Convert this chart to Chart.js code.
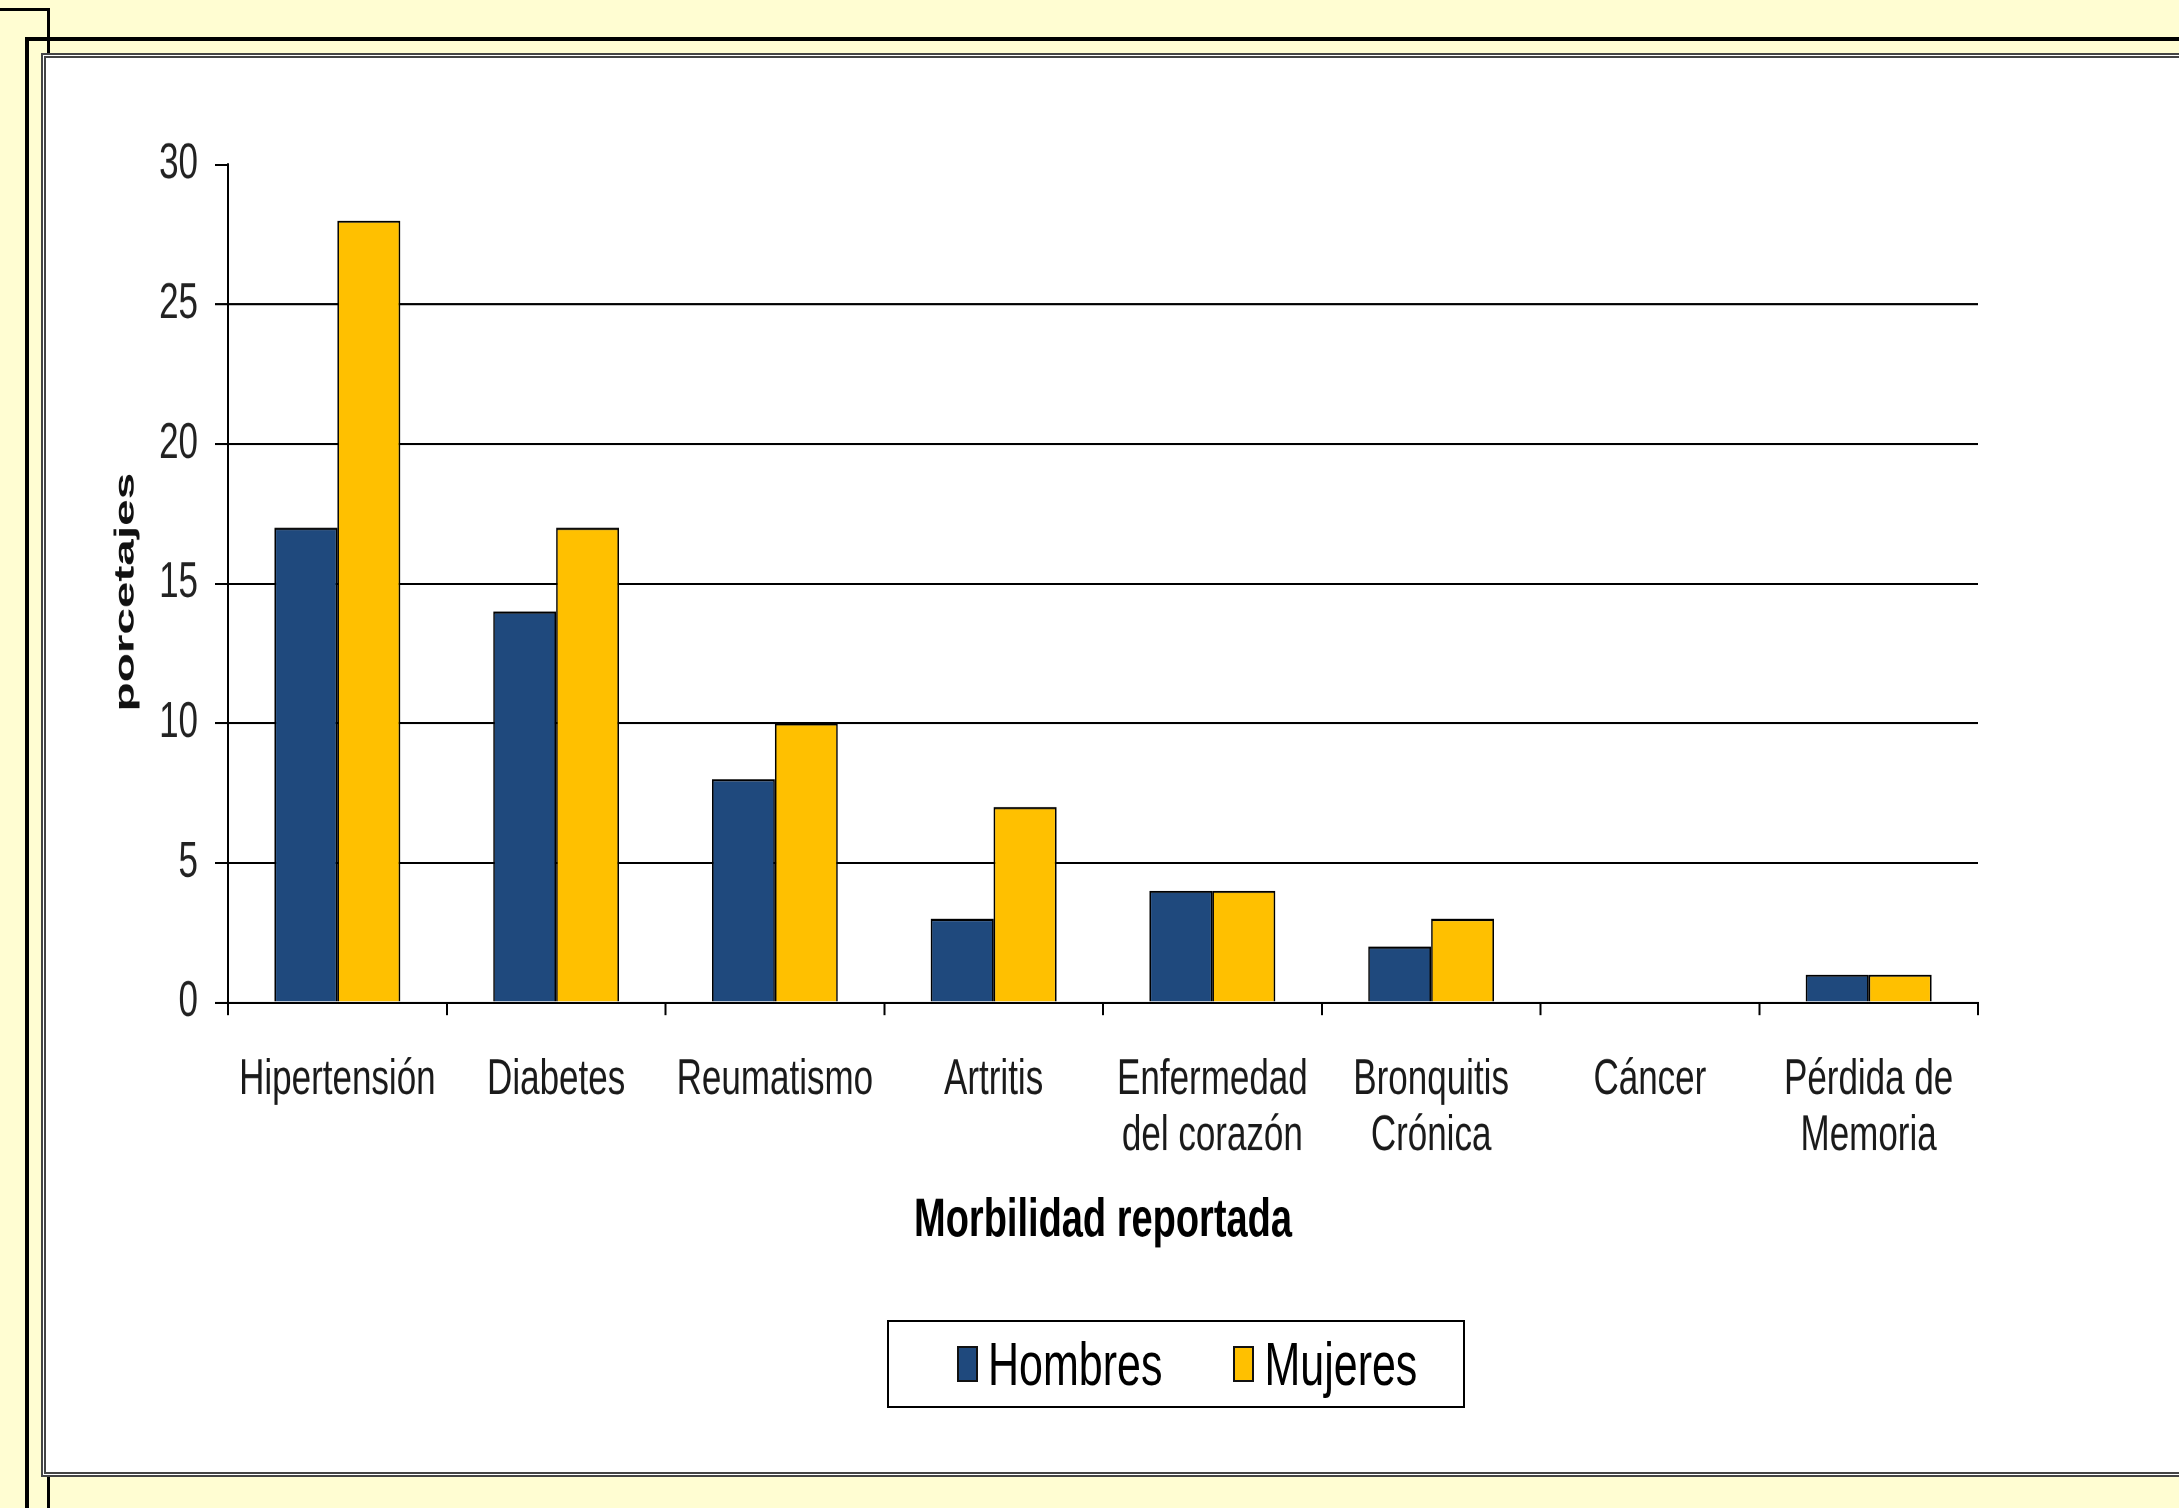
<!DOCTYPE html>
<html lang="es">
<head>
<meta charset="utf-8">
<title>Morbilidad reportada</title>
<script src="https://cdn.jsdelivr.net/npm/chart.js@4.4.1/dist/chart.umd.min.js"></script>
<style>
  html, body { margin: 0; padding: 0; }
  body {
    width: 2179px; height: 1508px; position: relative; overflow: hidden;
    background: #fffdd2;
    font-family: "Liberation Sans", Arial, sans-serif;
  }
  .line { position: absolute; background: #000; }
  #panel {
    position: absolute; left: 41px; top: 53px; width: 2160px; height: 1414px;
    background: #fff; border: 5px double #444;
  }
  #chart { position: absolute; left: 0; top: 0; }
  #legend {
    position: absolute; left: 887px; top: 1320px; width: 578px; height: 88px;
    box-sizing: border-box; border: 2px solid #000; background: #fff;
    display: flex; align-items: center; justify-content: flex-start;
    padding-left: 68px; gap: 71px;
    font-size: 43px; color: #000;
  }
  #legend .item { display: flex; align-items: center; gap: 10px; }
  #legend .sw { width: 21px; height: 36px; box-sizing: border-box; border: 2px solid #111; }
  #legend .txt { display: inline-block; transform: scaleY(1.42); }
</style>
</head>
<body>
<div class="line" style="left:0; top:8px; width:50px; height:3px;"></div>
<div class="line" style="left:47px; top:8px; width:3px; height:1500px;"></div>
<div class="line" style="left:25px; top:37px; width:2154px; height:4px;"></div>
<div class="line" style="left:25px; top:37px; width:4px; height:1471px;"></div>
<div id="panel"></div>
<canvas id="chart" width="2179" height="1062" style="width:2179px; height:1508px;"></canvas>
<div id="legend"></div>

<script>
// ---------------------- DATOS ----------------------
const categorias = [
  ["Hipertensión"], ["Diabetes"], ["Reumatismo"], ["Artritis"],
  ["Enfermedad", "del corazón"], ["Bronquitis", "Crónica"], ["Cáncer"], ["Pérdida de", "Memoria"]
];
const hombres = [17, 14, 8, 3, 4, 2, 0, 1];
const mujeres = [28, 17, 10, 7, 4, 3, 0, 1];
const yTicks = [0, 5, 10, 15, 20, 25, 30];
const tituloX = "Morbilidad reportada";
const tituloY = "porcetajes";

// el original esta estirado en vertical: se dibuja en un lienzo mas bajo y se estira con CSS
const fuente = '"Liberation Sans", Arial, sans-serif';

// ---- leyenda en HTML (con recuadro) ----
const htmlLegend = {
  id: "htmlLegend",
  afterUpdate(chart) {
    const box = document.getElementById("legend");
    box.innerHTML = "";
    chart.data.datasets.forEach((ds) => {
      const item = document.createElement("div");
      item.className = "item";
      const sw = document.createElement("span");
      sw.className = "sw";
      sw.style.background = ds.backgroundColor;
      const txt = document.createElement("span");
      txt.className = "txt";
      txt.textContent = ds.label;
      item.appendChild(sw);
      item.appendChild(txt);
      box.appendChild(item);
    });
  },
};

// ---- titulo del eje Y (alargado como en el original) ----
const yTitlePlugin = {
  id: "yTitle",
  afterDraw(chart) {
    const { ctx, chartArea } = chart;
    const t = chart.options.scales.y.title.text;
    ctx.save();
    ctx.translate(chartArea.left - 102, (chartArea.top + chartArea.bottom) / 2 + 6);
    ctx.rotate(-Math.PI / 2);
    ctx.scale(1.2, 1);
    ctx.font = "bold 28px " + fuente;
    ctx.fillStyle = "#111";
    ctx.textAlign = "center";
    ctx.textBaseline = "middle";
    ctx.fillText(t, 0, 0);
    ctx.restore();
  },
};

new Chart(document.getElementById("chart"), {
  type: "bar",
  data: {
    labels: categorias,
    datasets: [
      {
        label: "Hombres",
        data: hombres,
        backgroundColor: "#1f497d",
        borderColor: "#000",
        borderWidth: 1.6,
        categoryPercentage: 0.575,
        barPercentage: 1.0,
      },
      {
        label: "Mujeres",
        data: mujeres,
        backgroundColor: "#ffc000",
        borderColor: "#000",
        borderWidth: 1.6,
        categoryPercentage: 0.575,
        barPercentage: 1.0,
      },
    ],
  },
  options: {
    responsive: false,
    animation: false,
    devicePixelRatio: 2,
    layout: { padding: { top: 116, right: 201, bottom: 175, left: 0 } },
    plugins: {
      legend: { display: false },
      tooltip: { enabled: false },
    },
    scales: {
      x: {
        grid: {
          offset: true,
          drawOnChartArea: false,
          drawTicks: true,
          tickLength: 9,
          color: "#000",
          lineWidth: 2,
        },
        border: { display: true, color: "#000", width: 1.5 },
        ticks: {
          color: "#1a1a1a",
          font: { family: fuente, size: 35, lineHeight: 1.126 },
          padding: 26,
          maxRotation: 0,
          autoSkip: false,
        },
        title: {
          display: true,
          text: tituloX,
          color: "#000",
          font: { family: fuente, size: 38, weight: "bold", lineHeight: 1.2 },
        },
        afterFit(scale) {
          scale.height = 181;
        },
      },
      y: {
        min: 0,
        max: 30,
        afterBuildTicks(scale) {
          scale.ticks = yTicks.map((v) => ({ value: v }));
        },
        grid: {
          color: (c) => (c.tick && (c.tick.value === 0 || c.tick.value === 30) ? "rgba(0,0,0,0)" : "#000"),
          tickColor: "#000",
          lineWidth: 1.5,
          tickLength: 13,
        },
        border: { display: true, color: "#000", width: 2 },
        ticks: {
          color: "#222",
          font: { family: fuente, size: 35 },
          padding: 17,
        },
        title: { display: false, text: tituloY },
        afterFit(scale) {
          scale.width = 228;
        },
      },
    },
  },
  plugins: [htmlLegend, yTitlePlugin],
});
</script>
</body>
</html>
